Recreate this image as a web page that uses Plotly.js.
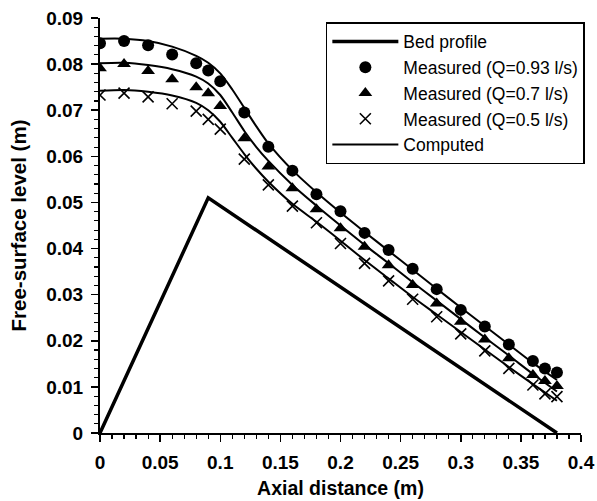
<!DOCTYPE html>
<html>
<head>
<meta charset="utf-8">
<script src="https://cdn.plot.ly/plotly-3.0.1.min.js"></script>
<style>html,body{margin:0;padding:0;background:#fff}#chart{width:597px;height:501px}</style>
</head>
<body>
<div id="chart"></div>
<script>
// Bed profile
var bedX = [0, 0.09, 0.38];
var bedY = [0, 0.051, 0];

// Measured points
var measX = [0, 0.02, 0.04, 0.06, 0.08, 0.09, 0.10, 0.12, 0.14, 0.16, 0.18, 0.20, 0.22, 0.24, 0.26, 0.28, 0.30, 0.32, 0.34, 0.36, 0.37, 0.38];
var measQ093 = [0.0845, 0.0850, 0.0841, 0.0821, 0.0802, 0.0786, 0.0763, 0.0695, 0.0621, 0.0569, 0.0518, 0.0481, 0.0434, 0.0397, 0.0356, 0.0312, 0.0267, 0.0231, 0.0192, 0.0156, 0.0140, 0.0131];
var measQ07  = [0.0791, 0.0800, 0.0785, 0.0767, 0.0750, 0.0737, 0.0709, 0.0639, 0.0578, 0.0531, 0.0485, 0.0444, 0.0404, 0.0364, 0.0321, 0.0281, 0.0241, 0.0203, 0.0162, 0.0126, 0.0113, 0.0102];
var measQ05  = [0.0733, 0.0737, 0.0729, 0.0714, 0.0698, 0.0680, 0.0659, 0.0594, 0.0538, 0.0492, 0.0456, 0.0411, 0.0368, 0.0330, 0.0290, 0.0252, 0.0215, 0.0178, 0.0140, 0.0104, 0.0085, 0.0079];

// Computed profiles
var compX = [0, 0.02, 0.04, 0.06, 0.08, 0.09, 0.10, 0.11, 0.12, 0.13, 0.14, 0.16, 0.18, 0.20, 0.22, 0.24, 0.26, 0.28, 0.30, 0.32, 0.34, 0.36, 0.38];
var compQ093 = [0.0855, 0.0855, 0.0850, 0.0838, 0.0818, 0.0803, 0.0780, 0.0745, 0.0705, 0.0665, 0.0628, 0.0570, 0.0522, 0.0478, 0.0436, 0.0395, 0.0354, 0.0313, 0.0272, 0.0232, 0.0192, 0.0152, 0.0115];
var compQ07  = [0.0802, 0.0803, 0.0798, 0.0789, 0.0773, 0.0758, 0.0733, 0.0695, 0.0655, 0.0620, 0.0590, 0.0538, 0.0493, 0.0450, 0.0408, 0.0368, 0.0327, 0.0287, 0.0247, 0.0207, 0.0168, 0.0128, 0.0090];
var compQ05  = [0.0742, 0.0744, 0.0740, 0.0732, 0.0716, 0.0700, 0.0675, 0.0640, 0.0605, 0.0573, 0.0545, 0.0497, 0.0458, 0.0417, 0.0375, 0.0335, 0.0295, 0.0257, 0.0219, 0.0181, 0.0143, 0.0106, 0.0070];

var xTickVals = [0, 0.05, 0.1, 0.15, 0.2, 0.25, 0.3, 0.35, 0.4];
var xTickText = ['0', '0.05', '0.1', '0.15', '0.2', '0.25', '0.3', '0.35', '0.4'];
var yTickVals = [0, 0.01, 0.02, 0.03, 0.04, 0.05, 0.06, 0.07, 0.08, 0.09];
var yTickText = ['0', '0.01', '0.02', '0.03', '0.04', '0.05', '0.06', '0.07', '0.08', '0.09'];

var names = ['Bed profile', 'Measured (Q=0.93 l/s)', 'Measured (Q=0.7 l/s)', 'Measured (Q=0.5 l/s)', 'Computed'];

var traces = [
  {x: bedX, y: bedY, mode: 'lines', name: names[0], line: {color: '#000', width: 3.5}},
  {x: measX, y: measQ093, mode: 'markers', name: names[1], marker: {symbol: 'circle', size: 12, color: '#000'}},
  {x: measX, y: measQ07, mode: 'markers', name: names[2], marker: {symbol: 'triangle-up', size: 12, color: '#000'}},
  {x: measX, y: measQ05, mode: 'markers', name: names[3], marker: {symbol: 'x-thin', size: 11, color: '#000', line: {color: '#000', width: 1.6}}},
  {x: compX, y: compQ093, mode: 'lines', name: names[4], legendgroup: 'comp', line: {color: '#000', width: 2, shape: 'spline', smoothing: 0.8}},
  {x: compX, y: compQ07, mode: 'lines', name: names[4], legendgroup: 'comp', showlegend: false, line: {color: '#000', width: 2, shape: 'spline', smoothing: 0.8}},
  {x: compX, y: compQ05, mode: 'lines', name: names[4], legendgroup: 'comp', showlegend: false, line: {color: '#000', width: 2, shape: 'spline', smoothing: 0.8}}
];

var font = 'Liberation Sans, Arial, sans-serif';
var layout = {
  width: 597, height: 501,
  margin: {l: 100, r: 14, t: 18, b: 68, pad: 0},
  paper_bgcolor: '#fff', plot_bgcolor: '#fff',
  font: {family: font, color: '#000'},
  showlegend: true,
  legend: {
    x: 1.008, xanchor: 'right', y: 0.99, yanchor: 'top',
    bgcolor: '#fff', bordercolor: '#000', borderwidth: 1.5,
    font: {family: font, size: 17.5, color: '#000'},
    itemwidth: 66, tracegroupgap: 0
  },
  xaxis: {
    range: [0, 0.4], autorange: false,
    tickvals: xTickVals, ticktext: xTickText,
    ticks: 'outside', ticklen: 7, tickwidth: 1.5, tickcolor: '#000',
    minor: {dtick: 0.01, tick0: 0, ticks: 'outside', ticklen: 4, tickwidth: 1.2, tickcolor: '#000'},
    showline: true, linewidth: 2, linecolor: '#000',
    showgrid: false, zeroline: false, ticklabelstandoff: 4,
    tickfont: {family: font, size: 19, color: '#000', weight: 'bold'},
    title: {text: '<b>Axial distance (m)</b>', font: {family: font, size: 19.5, color: '#000'}, standoff: 10}
  },
  yaxis: {
    range: [0, 0.09], autorange: false,
    tickvals: yTickVals, ticktext: yTickText,
    ticks: 'outside', ticklen: 7, tickwidth: 1.5, tickcolor: '#000',
    minor: {dtick: 0.002, tick0: 0, ticks: 'outside', ticklen: 4, tickwidth: 1.2, tickcolor: '#000'},
    showline: true, linewidth: 2, linecolor: '#000',
    showgrid: false, zeroline: false, ticklabelstandoff: 4,
    tickfont: {family: font, size: 19, color: '#000', weight: 'bold'},
    title: {text: '<b>Free-surface level (m)</b>', font: {family: font, size: 20.5, color: '#000'}, standoff: 14}
  }
};

Plotly.newPlot('chart', traces, layout, {displayModeBar: false, staticPlot: true});
</script>
</body>
</html>
